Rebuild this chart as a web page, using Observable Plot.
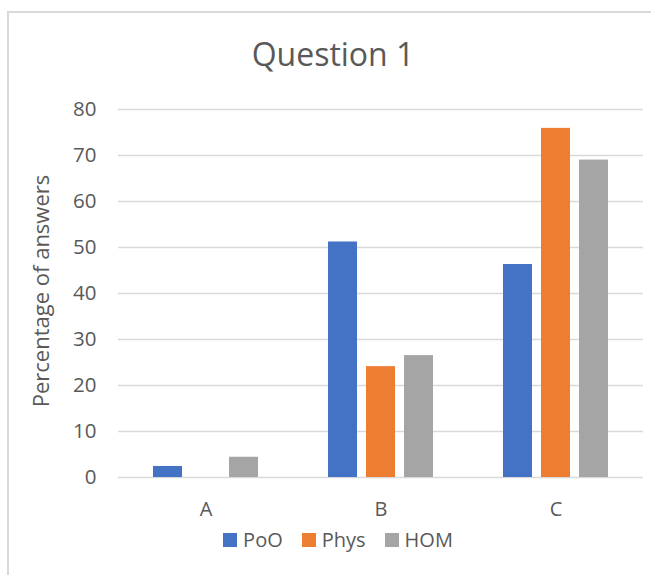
<!DOCTYPE html>
<html>
<head>
<meta charset="utf-8">
<script src="https://cdn.jsdelivr.net/npm/d3@7"></script>
<script src="https://cdn.jsdelivr.net/npm/@observablehq/plot@0.6"></script>
<style>
  html, body { margin: 0; padding: 0; background: #fff; }
  #wrap { position: relative; width: 651px; height: 575px; overflow: hidden; font-family: "Open Sans", sans-serif; color: #595959; }
  #frame { position: absolute; left: 7px; top: 11px; width: 700px; height: 600px; border-top: 2px solid #D9D9D9; border-left: 2px solid #D9D9D9; }
  #title { position: absolute; left: 0; width: 666px; top: 34px; text-align: center; font-size: 32px; line-height: 40px; white-space: nowrap; }
  #ylabel { position: absolute; left: 40px; top: 291px; transform: translate(-50%, -50%) rotate(-90deg); font-size: 22px; line-height: 26px; white-space: nowrap; }
  #chart { position: absolute; left: 0; top: 90px; }
  #legend { position: absolute; left: 0; width: 676px; top: 526px; display: flex; justify-content: center; gap: 19px; font-size: 20px; line-height: 28px; white-space: nowrap; }
  #legend span.item { display: flex; align-items: center; gap: 6px; }
  #legend span.sw { width: 14px; height: 14px; display: inline-block; }
</style>
</head>
<body>
<div id="wrap">
  <div id="frame"></div>
  <div id="title">Question 1</div>
  <div id="chart"></div>
  <div id="ylabel">Percentage of answers</div>
  <div id="legend"></div>
</div>
<script>
const categories = ["A", "B", "C"];
const seriesNames = ["PoO", "Phys", "HOM"];
const seriesColors = ["#4472C4", "#ED7D31", "#A5A5A5"];
const PoO = [2.4, 51.2, 46.3];
const Phys = [0, 24.1, 75.9];
const HOM = [4.4, 26.5, 69.0];
const yTicks = [0, 10, 20, 30, 40, 50, 60, 70, 80];

const seriesValues = { PoO, Phys, HOM };
const data = [];
categories.forEach((c, i) => {
  seriesNames.forEach(s => data.push({ category: c, series: s, value: seriesValues[s][i] }));
});

const chart = Plot.plot({
  width: 651,
  height: 440,
  marginLeft: 118,
  marginRight: 8,
  marginTop: 19,
  marginBottom: 53,
  style: { fontFamily: "Open Sans, sans-serif", color: "#595959", background: "transparent", overflow: "visible" },
  fx: { domain: categories, padding: 0, label: null, axis: null },
  x: { domain: seriesNames, paddingInner: 0.227, paddingOuter: 0.869, axis: null },
  y: { domain: [0, 80], ticks: yTicks, axis: null },
  color: { domain: seriesNames, range: seriesColors },
  marks: [
    Plot.ruleY(yTicks, { stroke: "#D9D9D9", strokeWidth: 1.5 }),
    Plot.barY(data, { fx: "category", x: "series", y: "value", fill: "series" }),
    Plot.axisY({ ticks: yTicks, tickSize: 0, tickPadding: 22, fontSize: 20.5, fill: "#595959", label: null }),
    Plot.axisFx({ anchor: "bottom", tickSize: 0, tickPadding: 24, fontSize: 20, fill: "#595959", label: null })
  ]
});
document.getElementById("chart").appendChild(chart);

const legend = document.getElementById("legend");
seriesNames.forEach((s, i) => {
  const item = document.createElement("span");
  item.className = "item";
  const sw = document.createElement("span");
  sw.className = "sw";
  sw.style.background = seriesColors[i];
  item.appendChild(sw);
  item.appendChild(document.createTextNode(s));
  legend.appendChild(item);
});
</script>
</body>
</html>
